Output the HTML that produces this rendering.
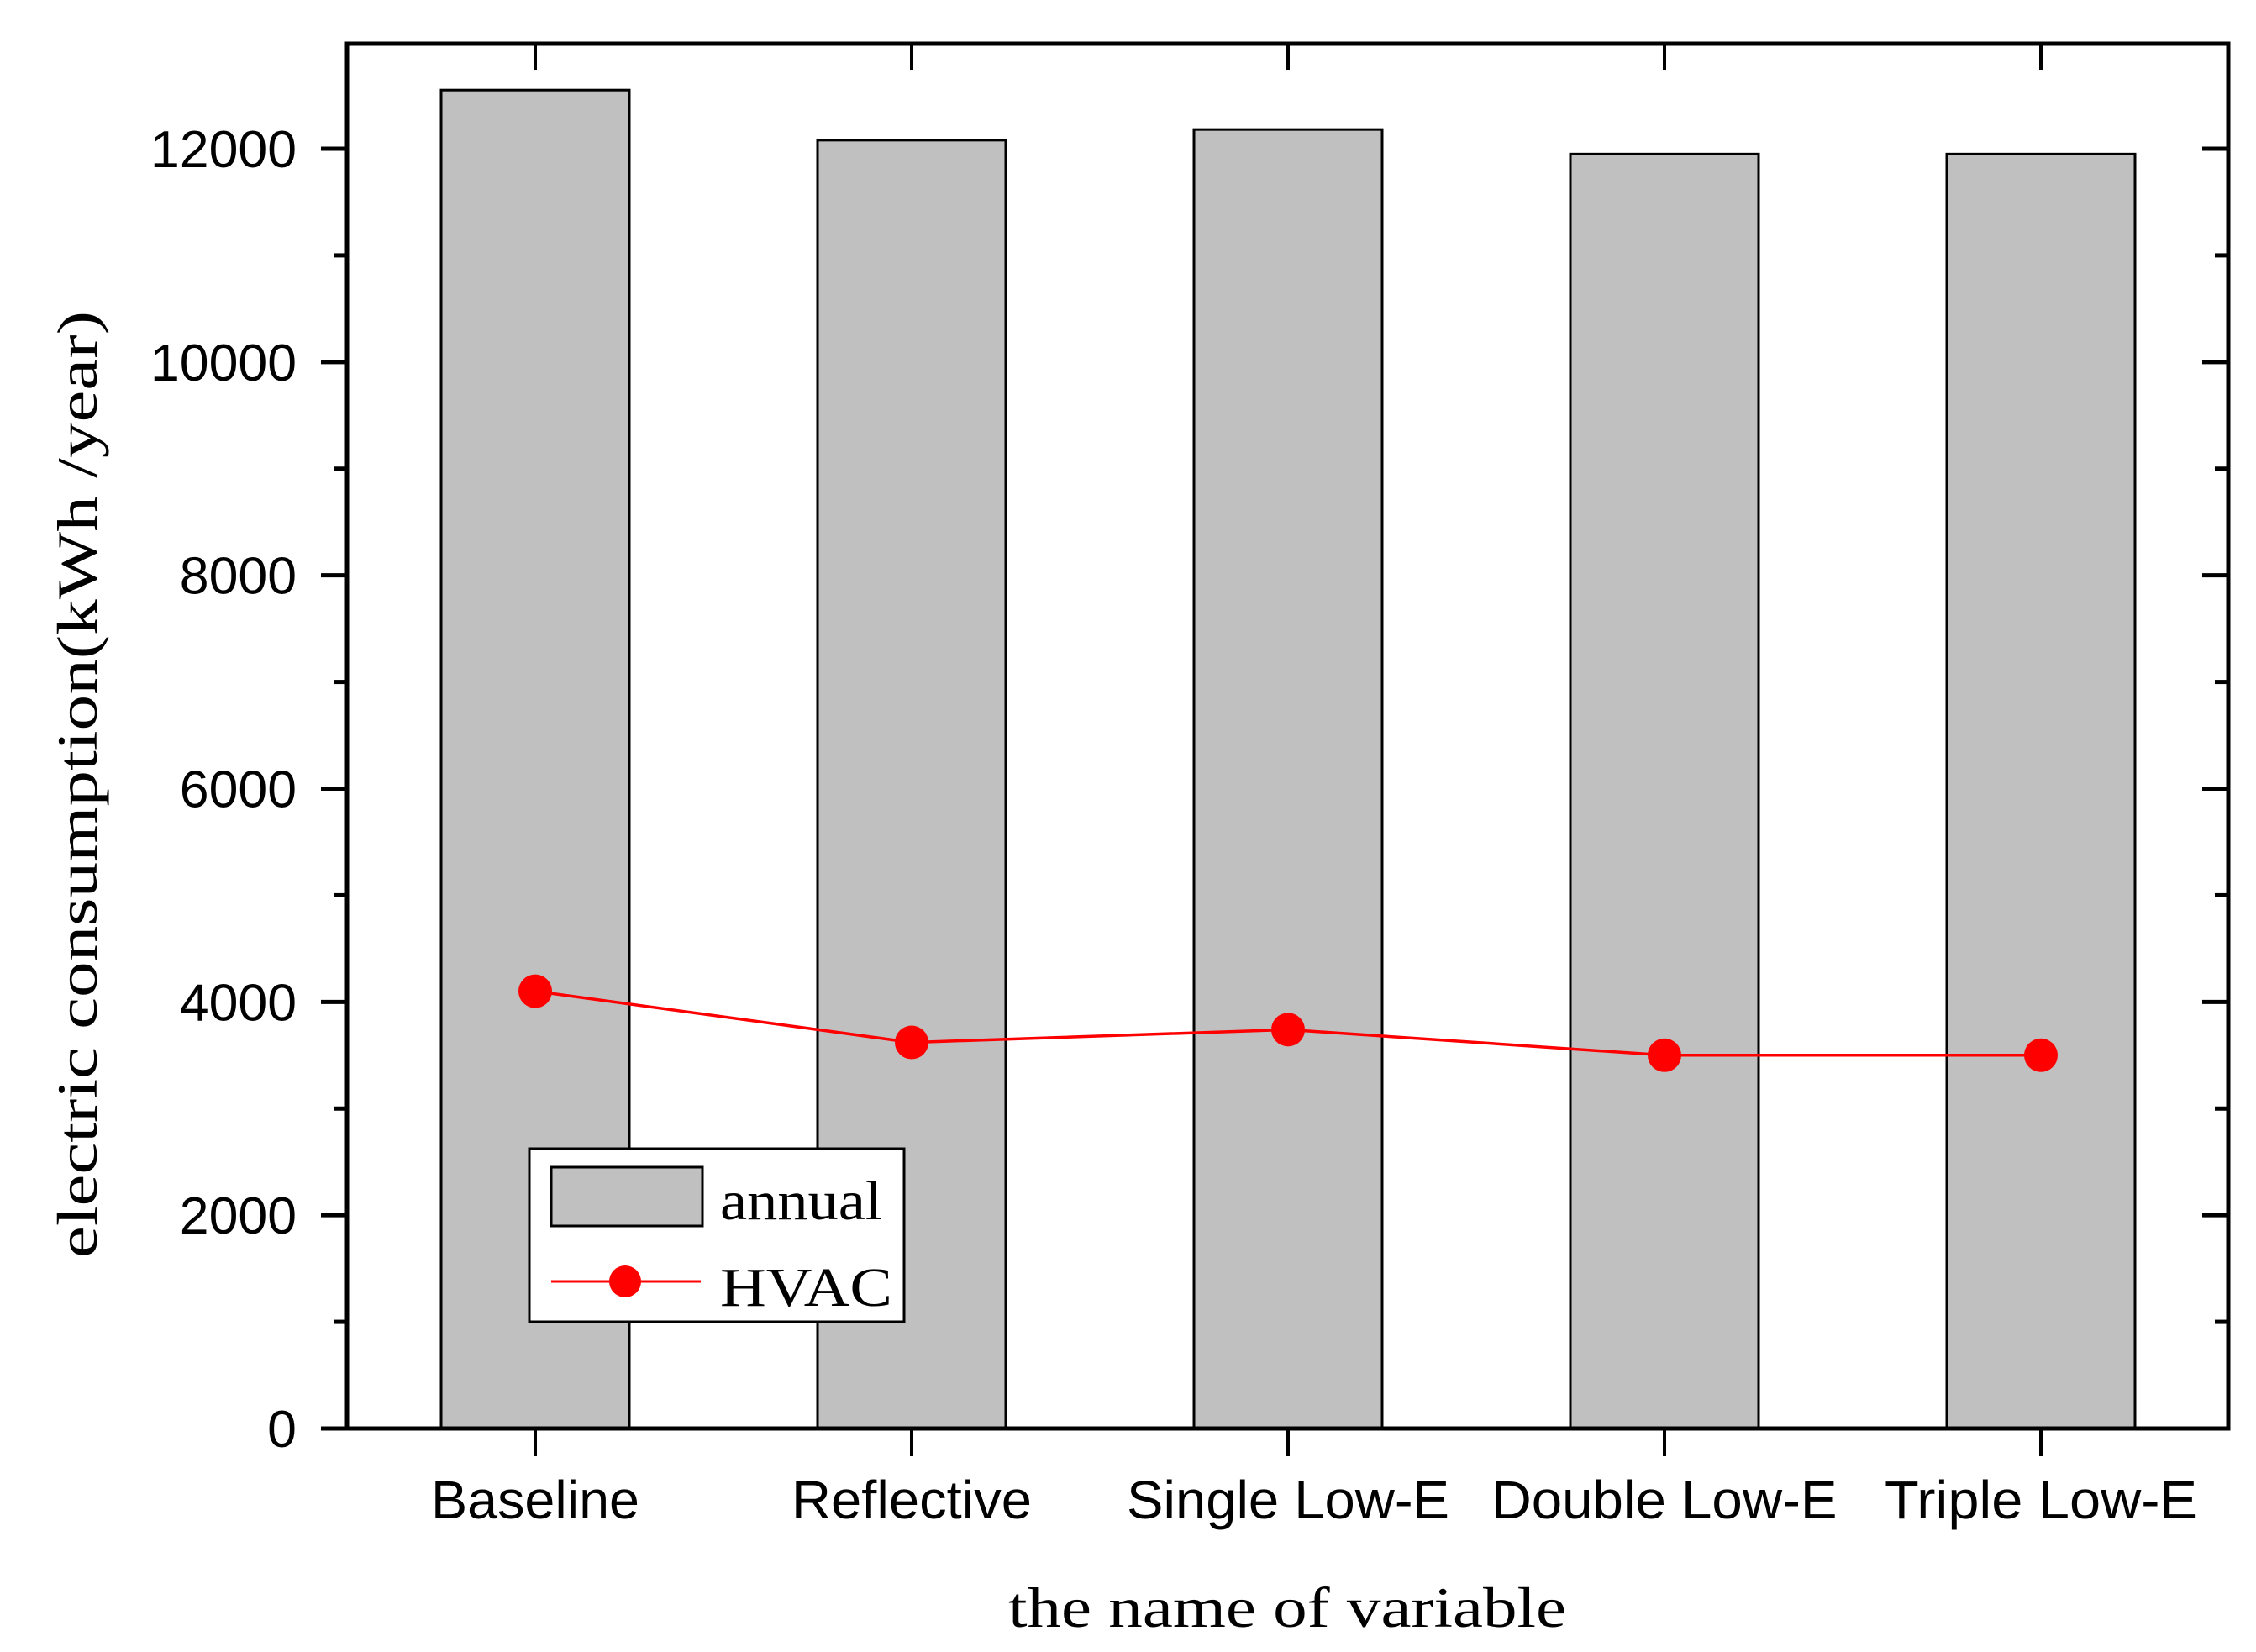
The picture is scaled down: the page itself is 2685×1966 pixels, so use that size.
<!DOCTYPE html>
<html><head><meta charset="utf-8"><style>
html,body{margin:0;padding:0;background:#fff;}
svg{display:block;}
</style></head><body>
<svg id="chart" width="2685" height="1966" viewBox="0 0 2685 1966" xmlns="http://www.w3.org/2000/svg">
<g id="bars"></g>
<g id="line"></g>
<g id="axes"></g>
<g id="legend">
  <rect x="630" y="1367" width="446" height="206" fill="#fff" stroke="#000" stroke-width="3"/>
  <rect x="656" y="1389" width="180" height="70" fill="#c0c0c0" stroke="#000" stroke-width="3"/>
  <text x="857" y="1451" font-family="Liberation Serif, serif" font-size="66" textLength="193" lengthAdjust="spacingAndGlyphs">annual</text>
  <line x1="656" y1="1525" x2="834" y2="1525" stroke="#ff0000" stroke-width="3"/>
  <circle cx="744" cy="1525" r="19" fill="#ff0000"/>
  <text x="857" y="1554" font-family="Liberation Serif, serif" font-size="66" textLength="205" lengthAdjust="spacingAndGlyphs">HVAC</text>
</g>
<text x="1200" y="1936" font-family="Liberation Serif, serif" font-size="68" textLength="664" lengthAdjust="spacingAndGlyphs">the name of variable</text>
<text transform="translate(115,1497) rotate(-90)" x="0" y="0" font-family="Liberation Serif, serif" font-size="68" textLength="1127" lengthAdjust="spacingAndGlyphs">electric consumption(kWh /year)</text>
</svg>
<script>
const categories = ["Baseline","Reflective","Single Low-E","Double Low-E","Triple Low-E"];
const annualValues = [12550, 12080, 12180, 11950, 11950];
const hvacValues = [4100, 3620, 3740, 3500, 3500];
const yTicks = [0, 2000, 4000, 6000, 8000, 10000, 12000];
const yTickLabels = ["0","2000","4000","6000","8000","10000","12000"];

const NS = "http://www.w3.org/2000/svg";
const L = 413, R = 2652, T = 52, B = 1700;
const yMax = 13000;
const y = v => B - v / 12000 * (B - 177);
const step = 448, x0 = 637;
const x = i => x0 + i * step;
const barW = 224;
const catWidths = [248, 286, 384, 411, 372];

function mk(tag, attrs, parent) {
  const el = document.createElementNS(NS, tag);
  for (const k in attrs) el.setAttribute(k, attrs[k]);
  parent.appendChild(el);
  return el;
}
const bars = document.getElementById('bars');
const line = document.getElementById('line');
const axes = document.getElementById('axes');

annualValues.forEach((v, i) => {
  const r = mk('rect', {x: x(i) - barW / 2, y: y(v), width: barW, height: B - y(v), fill: '#c0c0c0', stroke: '#000', 'stroke-width': 3}, bars);
  
  
});

const pts = hvacValues.map((v, i) => x(i) + ',' + y(v)).join(' ');
const pl = mk('polyline', {points: pts, fill: 'none', stroke: '#ff0000', 'stroke-width': 3.5}, line);


hvacValues.forEach((v, i) => {
  const c = mk('circle', {cx: x(i), cy: y(v), r: 20, fill: '#ff0000'}, line);
  
  
});

const fr = mk('rect', {x: L, y: T, width: R - L, height: B - T, fill: 'none', stroke: '#000', 'stroke-width': 5}, axes);



yTicks.forEach((v, i) => {
  const t = mk('line', {x1: L - 31, y1: y(v), x2: L, y2: y(v), stroke: '#000', 'stroke-width': 5}, axes);
  
  
  const t2 = mk('line', {x1: R - 31, y1: y(v), x2: R, y2: y(v), stroke: '#000', 'stroke-width': 5}, axes);
  
  
  const lb = mk('text', {x: 353, y: y(v) + 22, 'text-anchor': 'end', 'font-family': 'Liberation Sans, sans-serif', 'font-size': 62, textLength: yTickLabels[i].length * 34.8, lengthAdjust: 'spacingAndGlyphs'}, axes);
  lb.textContent = yTickLabels[i];
  
  
});
for (let v = 1000; v < yMax; v += 2000) {
  const t = mk('line', {x1: L - 16, y1: y(v), x2: L, y2: y(v), stroke: '#000', 'stroke-width': 5}, axes);
  
  
  const t2 = mk('line', {x1: R - 16, y1: y(v), x2: R, y2: y(v), stroke: '#000', 'stroke-width': 5}, axes);
  
  
}
categories.forEach((c, i) => {
  const t = mk('line', {x1: x(i), y1: B, x2: x(i), y2: B + 33, stroke: '#000', 'stroke-width': 4}, axes);
  
  
  const t2 = mk('line', {x1: x(i), y1: T, x2: x(i), y2: T + 31, stroke: '#000', 'stroke-width': 4}, axes);
  
  
  const lb = mk('text', {x: x(i), y: 1807, 'text-anchor': 'middle', 'font-family': 'Liberation Sans, sans-serif', 'font-size': 64, textLength: catWidths[i], lengthAdjust: 'spacingAndGlyphs'}, axes);
  lb.textContent = c;
  
  
});
</script>
</body></html>
